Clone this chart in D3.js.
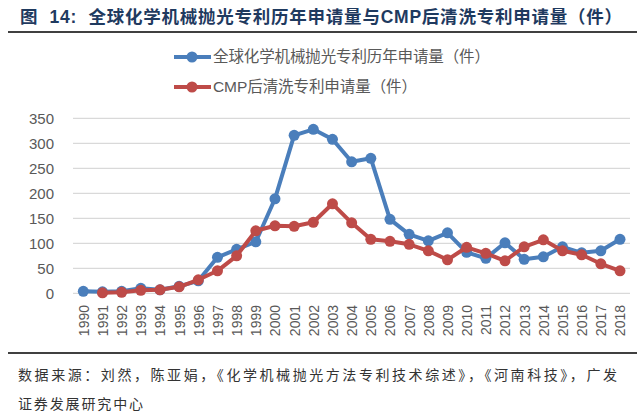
<!DOCTYPE html>
<html><head><meta charset="utf-8">
<script src="https://cdn.jsdelivr.net/npm/d3@7"></script>
<style>body{margin:0;background:#fff}svg{display:block}</style>
</head><body>
<script>
const years = d3.range(1990, 2019).map(String);
const globalCMP = [4,3,4,10,7,14,25,72,88,103,189,316,328,308,263,270,148,118,105,121,82,70,101,68,73,93,81,85,108];
const cleanCMP = [null,1,2,6,7,13,27,45,75,125,135,134,142,179,141,108,104,98,85,67,92,80,65,93,107,85,77,59,45];
const yTicks = [0,50,100,150,200,250,300,350];
const seriesNames = ["全球化学机械抛光专利历年申请量（件）","CMP后清洗专利申请量（件）"];
const colors = ["#4A7EBB","#BE4B48"];
const title = "图  14:  全球化学机械抛光专利历年申请量与CMP后清洗专利申请量（件）";
const source1 = "数据来源：刘然，陈亚娟，《化学机械抛光方法专利技术综述》，《河南科技》，广发";
const source2 = "证券发展研究中心";

const W = 641, H = 419;
const svg = d3.select("body").append("svg").attr("width", W).attr("height", H);
const font = "'Liberation Sans', Arial, 'Noto Sans CJK SC', sans-serif";

// Title
svg.append("text").attr("x", 20).attr("y", 23)
  .attr("font-family", font).attr("font-weight", "bold").attr("font-size", 17.5)
  .attr("fill", "#1F3A5F").attr("xml:space","preserve")
  .attr("textLength", 602).attr("lengthAdjust", "spacing").text(title);
svg.append("line").attr("x1", 8).attr("x2", 637).attr("y1", 32).attr("y2", 32)
  .attr("stroke", "#404040").attr("stroke-width", 2);

const x = d3.scalePoint().domain(years).range([83.3, 620]);
const y = d3.scaleLinear().domain([0, 350]).range([293.3, 118.3]);

// Grid
svg.append("g").selectAll("line").data(yTicks).join("line")
  .attr("x1", 73).attr("x2", 630).attr("y1", d => y(d)).attr("y2", d => y(d))
  .attr("stroke", "#D9D9D9").attr("stroke-width", 1.3);

// Y axis
const yAxis = svg.append("g").attr("transform", "translate(60,0)")
  .call(d3.axisLeft(y).tickValues(yTicks).tickSize(0).tickPadding(6));
yAxis.select(".domain").remove();
yAxis.selectAll("text").attr("font-family", font).attr("font-size", 15).attr("fill", "#595959");

// X axis
const xAxis = svg.append("g").attr("transform", "translate(0,300)")
  .call(d3.axisBottom(x).tickSize(0).tickPadding(0));
xAxis.select(".domain").remove();
xAxis.selectAll("text").attr("font-family", font).attr("font-size", 14).attr("fill", "#595959")
  .attr("text-anchor", "end").attr("dy", "0.35em")
  .attr("transform", "translate(0,5) rotate(-90)").attr("y", 0).attr("x", 0);

// Lines
const line = d3.line().defined(d => d.v != null).x(d => x(d.year)).y(d => y(d.v));
[globalCMP, cleanCMP].forEach((arr, i) => {
  const data = years.map((yr, j) => ({year: yr, v: arr[j]}));
  const g = svg.append("g");
  g.append("path").datum(data).attr("d", line).attr("fill", "none")
    .attr("stroke", colors[i]).attr("stroke-width", 4).attr("stroke-linejoin", "round");
  g.selectAll("circle").data(data.filter(d => d.v != null)).join("circle")
    .attr("cx", d => x(d.year)).attr("cy", d => y(d.v)).attr("r", 5.5).attr("fill", colors[i]);
});

// Legend
const legendLen = [277, 204];
seriesNames.forEach((name, i) => {
  const ly = 57 + i * 30;
  svg.append("line").attr("x1", 174).attr("x2", 211).attr("y1", ly).attr("y2", ly)
    .attr("stroke", colors[i]).attr("stroke-width", 4);
  svg.append("circle").attr("cx", 192).attr("cy", ly).attr("r", 5.5).attr("fill", colors[i]);
  svg.append("text").attr("x", 213).attr("y", ly).attr("dy", "0.35em")
    .attr("font-family", font).attr("font-size", 15.5).attr("fill", "#595959")
    .attr("textLength", legendLen[i]).attr("lengthAdjust", "spacing").text(name);
});

// Footer
svg.append("line").attr("x1", 8).attr("x2", 637).attr("y1", 353).attr("y2", 353)
  .attr("stroke", "#404040").attr("stroke-width", 2);
svg.append("text").attr("x", 18).attr("y", 380).attr("font-family", "'Noto Sans CJK SC', sans-serif")
  .attr("font-size", 14).attr("fill", "#333")
  .attr("textLength", 599).attr("lengthAdjust", "spacing").text(source1);
svg.append("text").attr("x", 18).attr("y", 409).attr("font-family", "'Noto Sans CJK SC', sans-serif")
  .attr("font-size", 14).attr("fill", "#333")
  .attr("textLength", 125).attr("lengthAdjust", "spacing").text(source2);
</script>
</body></html>
